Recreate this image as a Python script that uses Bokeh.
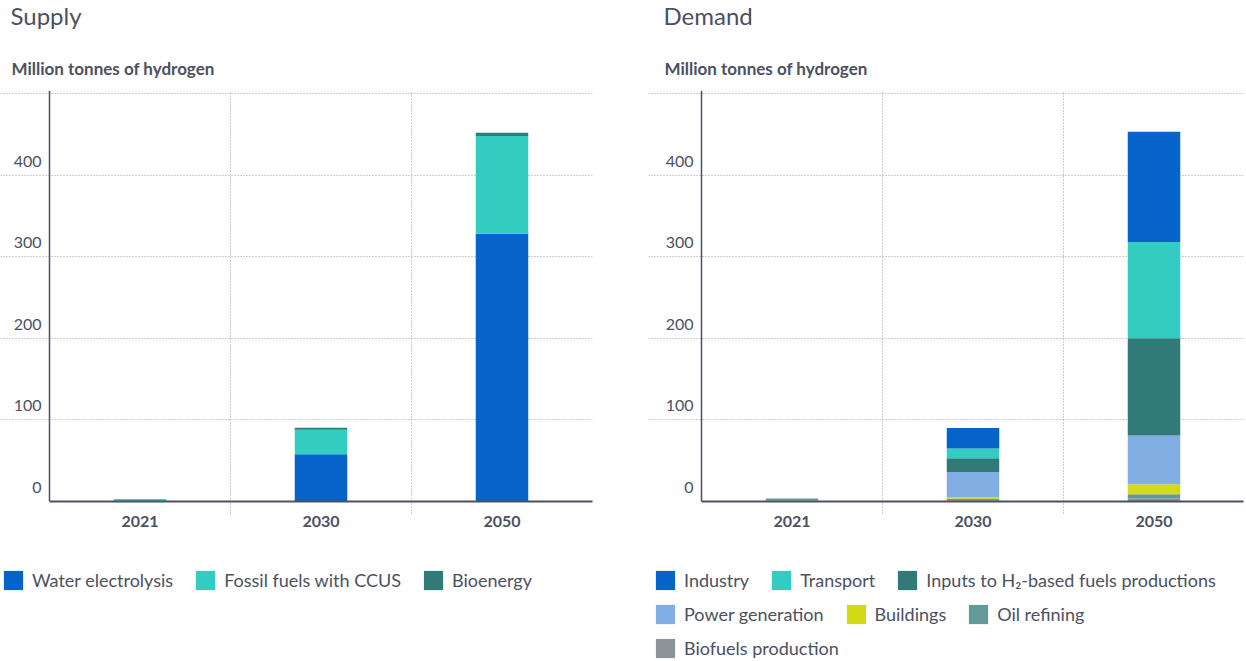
from bokeh.plotting import figure
from bokeh.models import (Range1d, FixedTicker, Span, Legend, LegendItem, Label,
                          ColumnDataSource)
from bokeh.layouts import row, column
from bokeh.embed import file_html
from bokeh.resources import INLINE
from bokeh.core.properties import value

# ---------------- data ----------------
years = ["2021", "2030", "2050"]

supply_labels = ["Water electrolysis", "Fossil fuels with CCUS", "Bioenergy"]
water_electrolysis = [0.0, 58.0, 328.0]
fossil_fuels_ccus = [3.0, 30.0, 120.0]
bioenergy = [0.0, 2.5, 4.0]

demand_labels = ["Biofuels production", "Oil refining", "Buildings",
                 "Power generation", "Inputs to H\u2082-based fuels productions",
                 "Transport", "Industry"]
biofuels_production = [1.2, 1.5, 4.0]
oil_refining = [2.5, 2.0, 5.0]
buildings = [0.0, 1.5, 12.0]
power_generation = [0.0, 31.0, 60.0]
inputs_h2_fuels = [0.0, 17.0, 119.0]
transport = [0.0, 12.0, 118.0]
industry = [0.0, 25.0, 135.0]

y_label_values = [0, 100, 200, 300, 400]
y_tick_labels = ["0", "100", "200", "300", "400"]
y_grid_values = [100, 200, 300, 400, 500]
y_max = 500
unit_label = "Million tonnes of hydrogen"

# ---------------- style ----------------
FONT = "Lato"
TEXT = "#4b5160"
AXIS = "#4b5160"
GRID = "#9c9c9c"
supply_colors = ["#0563c9", "#33ccc0", "#317a78"]
demand_colors = ["#8e9299", "#629a9a", "#d4d915", "#82afe3",
                 "#317a78", "#33ccc0", "#0563c9"]

PX_PER_CAT = 181
HEADER_H = 90
CHART_H = 445
LEGEND_H = 661 - HEADER_H - CHART_H
BOTTOM = 34
ROW_PITCH = 34
GLYPH = 24
FIRST_ROW_Y = 69   # legend bottom, measured up from the legend-figure bottom


def blank_figure(width, height):
    f = figure(width=width, height=height, x_range=Range1d(0, 1),
               y_range=Range1d(0, 1), output_backend="svg",
               toolbar_location=None, x_axis_location=None,
               y_axis_location=None, min_border=0)
    f.outline_line_color = None
    f.xgrid.visible = False
    f.ygrid.visible = False
    return f


def make_panel(title, names, values, colors, legend_rows, width, left_px,
               right_border, title_x, legend_x):
    # ---- header with the panel title and the unit ----
    hf = blank_figure(width, HEADER_H)
    hf.add_layout(Label(x=title_x, y=HEADER_H - 15, x_units="screen",
                        y_units="screen", text=title, text_font=FONT,
                        text_font_size="24px", text_color=TEXT,
                        text_baseline="middle", text_align="left"))
    hf.add_layout(Label(x=title_x + 1, y=HEADER_H - 68, x_units="screen",
                        y_units="screen", text=unit_label, text_font=FONT,
                        text_font_size="17px", text_font_style="bold",
                        text_color=TEXT, text_baseline="middle",
                        text_align="left"))

    # ---- chart ----
    xs = list(range(len(years)))
    data = {"x": xs, "year": years}
    for n, v in zip(names, values):
        data[n] = v
    src = ColumnDataSource(data)

    frame_w = width - right_border
    start = -0.5 - left_px / PX_PER_CAT
    end = start + frame_w / PX_PER_CAT
    frame_h = CHART_H - BOTTOM
    y_end = y_max * frame_h / (frame_h - 3)

    p = figure(width=width, height=CHART_H, x_range=Range1d(start, end),
               y_range=Range1d(0, y_end), output_backend="svg",
               toolbar_location=None, y_axis_location=None,
               min_border_left=0, min_border_right=right_border,
               min_border_top=0, min_border_bottom=BOTTOM)
    p.outline_line_color = None

    p.ygrid.ticker = FixedTicker(ticks=y_grid_values)
    p.ygrid.grid_line_color = GRID
    p.ygrid.grid_line_dash = "1 2"
    p.ygrid.grid_line_width = 1
    p.xgrid.ticker = FixedTicker(ticks=[i + 0.5 for i in xs[:-1]])
    p.xgrid.grid_line_color = GRID
    p.xgrid.grid_line_dash = "1 2"
    p.xgrid.grid_line_width = 1

    p.vbar_stack(names, x="x", width=0.29, source=src,
                 fill_color=colors, line_color=None)

    p.add_layout(Span(location=-0.5, dimension="height",
                      line_color=AXIS, line_width=1.5))
    p.text(x=[-0.5 - 8 / PX_PER_CAT] * len(y_label_values), y=y_label_values,
           text=y_tick_labels, text_font=value(FONT), text_font_size="16px",
           text_color=TEXT, text_align="right", text_baseline="alphabetic",
           y_offset=-14)

    ax = p.xaxis[0]
    ax.ticker = FixedTicker(ticks=xs, minor_ticks=[i + 0.5 for i in xs[:-1]])
    ax.major_label_overrides = {i: y for i, y in enumerate(years)}
    ax.bounds = (-0.5, end)
    ax.axis_line_color = AXIS
    ax.axis_line_width = 2
    ax.major_tick_out = 0
    ax.major_tick_in = 0
    ax.minor_tick_out = 12
    ax.minor_tick_in = 0
    ax.minor_tick_line_color = GRID
    ax.minor_tick_line_dash = "1 2"
    ax.major_label_standoff = 2
    ax.major_label_text_font = FONT
    ax.major_label_text_font_size = "16px"
    ax.major_label_text_font_style = "bold"
    ax.major_label_text_color = TEXT

    # ---- legend below the chart (zero-size proxies carry the colours) ----
    lf = blank_figure(width, LEGEND_H)
    proxies = {}
    for n, c in zip(names, colors):
        proxies[n] = lf.vbar(x=[0], top=[0], bottom=[0], width=0,
                             fill_color=c, line_color=None)
    for k, row_names in enumerate(legend_rows):
        items = [LegendItem(label=n, renderers=[proxies[n]]) for n in row_names]
        lg = Legend(items=items, orientation="horizontal",
                    location=(legend_x, FIRST_ROW_Y - k * ROW_PITCH),
                    border_line_color=None, background_fill_alpha=0,
                    glyph_width=GLYPH, glyph_height=GLYPH, label_height=GLYPH,
                    label_standoff=7, spacing=20, padding=0, margin=0,
                    label_text_font=FONT, label_text_font_size="18px",
                    label_text_color=TEXT)
        lf.add_layout(lg)
    return column(hf, p, lf, spacing=0)


p_supply = make_panel(
    "Supply", supply_labels,
    [water_electrolysis, fossil_fuels_ccus, bioenergy], supply_colors,
    [["Water electrolysis", "Fossil fuels with CCUS", "Bioenergy"]],
    width=648, left_px=49, right_border=56, title_x=10, legend_x=1)

p_demand = make_panel(
    "Demand", demand_labels,
    [biofuels_production, oil_refining, buildings, power_generation,
     inputs_h2_fuels, transport, industry], demand_colors,
    [["Industry", "Transport", "Inputs to H\u2082-based fuels productions"],
     ["Power generation", "Buildings", "Oil refining"],
     ["Biofuels production"]],
    width=598, left_px=53, right_border=3, title_x=15, legend_x=5)

layout = row(p_supply, p_demand, spacing=0)
open("out.html", "w").write(file_html(layout, INLINE))
